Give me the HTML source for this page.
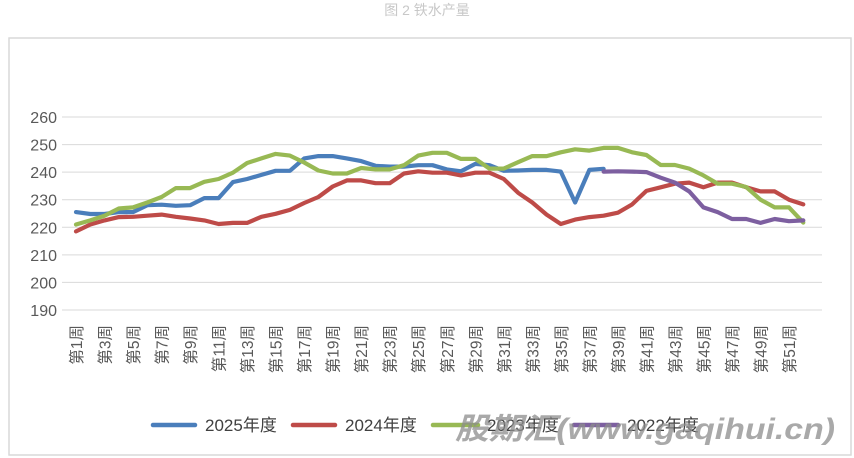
<!DOCTYPE html>
<html><head><meta charset="utf-8"><style>
html,body{margin:0;padding:0;background:#fff;}
svg{display:block;font-family:"Liberation Sans","Noto Sans CJK SC",sans-serif;}
</style></head><body>
<svg width="854" height="458" viewBox="0 0 854 458" xmlns="http://www.w3.org/2000/svg">
<text x="427" y="15" text-anchor="middle" font-size="14" fill="#c8c8c8">图 2 铁水产量</text>
<rect x="9" y="38" width="842" height="417" fill="#fff" stroke="#d9d9d9" stroke-width="1.5"/>
<g id="grid" stroke="#d9d9d9" stroke-width="1"></g>
<g id="ylab" font-size="16" fill="#595959" text-anchor="end"></g>
<g id="xlab" font-size="15.5" fill="#595959"></g>
<g id="lines" fill="none" stroke-width="4.2" stroke-linejoin="round" stroke-linecap="round"></g>
<g font-size="17" fill="#404040">
<line x1="153" y1="425" x2="195" y2="425" stroke="#4a7ebb" stroke-width="4.5" stroke-linecap="round"/>
<text x="205" y="431">2025年度</text>
<line x1="293" y1="425" x2="335" y2="425" stroke="#be4b48" stroke-width="4.5" stroke-linecap="round"/>
<text x="345" y="431">2024年度</text>
<line x1="433" y1="425" x2="478" y2="425" stroke="#98b954" stroke-width="4.5" stroke-linecap="round"/>
<text x="487" y="431">2023年度</text>
<line x1="574" y1="425" x2="618" y2="425" stroke="#7d5fa0" stroke-width="4.5" stroke-linecap="round"/>
<text x="627" y="431">2022年度</text>
</g>
<text x="455" y="439" font-size="30" font-weight="bold" font-style="italic" fill="#8c8c8c" fill-opacity="0.75" textLength="380" lengthAdjust="spacingAndGlyphs">股期汇(www.gaqihui.cn)</text>
</svg>
<script>
var ns="http://www.w3.org/2000/svg";
function Y(v){return 117+(260-v)*2.757;}
function X(i){return 76+(i-1)*14.26;}
var g=document.getElementById('grid'),yl=document.getElementById('ylab'),xl=document.getElementById('xlab'),L=document.getElementById('lines');
for(var v=190;v<=260;v+=10){var l=document.createElementNS(ns,'line');l.setAttribute('x1',62);l.setAttribute('x2',822);l.setAttribute('y1',Y(v));l.setAttribute('y2',Y(v));g.appendChild(l);
var t=document.createElementNS(ns,'text');t.setAttribute('x',57);t.setAttribute('y',Y(v)+6);t.textContent=v;yl.appendChild(t);}
for(var i=1;i<=51;i+=2){var t=document.createElementNS(ns,'text');t.setAttribute('transform','translate('+(X(i)+6)+',325) rotate(-90)');t.setAttribute('text-anchor','end');t.textContent='第'+i+'周';xl.appendChild(t);}
var d={
"#4a7ebb":[1,[225.5,224.8,224.8,225.5,225.5,228,228.2,227.8,228,230.6,230.6,236.4,237.5,239,240.5,240.5,245,245.8,245.8,245,244,242.3,242,242,242.5,242.5,241,240.3,243,242.5,240.5,240.6,240.8,240.8,240.2,229,240.8,241.2]],
"#be4b48":[1,[218.5,221,222.5,223.7,223.8,224.2,224.6,223.8,223.2,222.5,221.2,221.6,221.6,223.8,224.9,226.3,228.8,231,234.8,237,237,236,236,239.5,240.3,239.8,239.8,238.8,239.8,239.8,237.5,232.5,229,224.6,221.2,222.8,223.7,224.2,225.3,228.3,233.2,234.5,235.8,236.2,234.5,236.2,236.2,234.5,233,233,230,228.3]],
"#98b954":[1,[221,222.5,224.2,226.8,227.2,229,231,234.2,234.2,236.5,237.5,239.8,243.3,245,246.6,246,243.5,240.6,239.5,239.5,241.5,241,241,242.5,246,247,247,244.8,244.8,241.3,241.3,243.6,245.8,245.8,247.2,248.3,247.8,248.8,248.8,247.2,246.2,242.6,242.6,241.3,238.8,235.8,235.8,234.6,230,227.2,227.2,221.7]],
"#7d5fa0":[38,[240.2,240.3,240.2,240,238,236.2,233,227.2,225.5,223,223,221.6,223,222.2,222.5]]};
for(var c in d){var s=d[c][0],a=d[c][1],p=[];for(var k=0;k<a.length;k++)p.push(X(s+k).toFixed(1)+','+Y(a[k]).toFixed(1));
var pl=document.createElementNS(ns,'polyline');pl.setAttribute('points',p.join(' '));pl.setAttribute('stroke',c);L.appendChild(pl);}
</script>
</body></html>
